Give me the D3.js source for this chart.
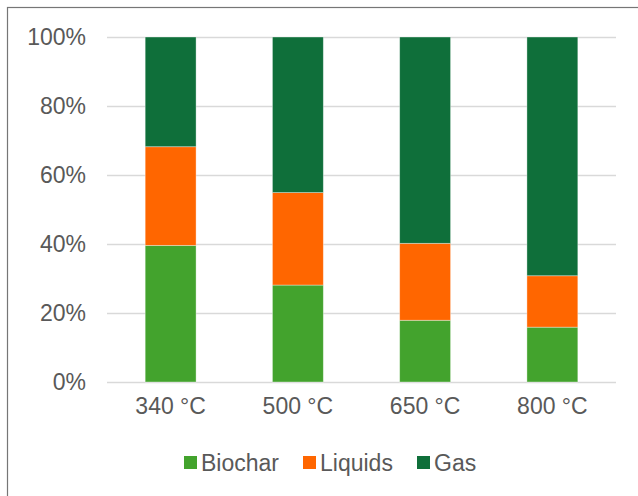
<!DOCTYPE html>
<html>
<head>
<meta charset="utf-8">
<script src="https://cdn.jsdelivr.net/npm/d3@7"></script>
<style>
  body { margin: 0; background: #fff; }
  text { font-family: "Liberation Sans", Arial, sans-serif; fill: #595959; }
</style>
</head>
<body>
<div id="chart"></div>
<script>
var categories = ["340 °C", "500 °C", "650 °C", "800 °C"];
var seriesNames = ["Biochar", "Liquids", "Gas"];
var biochar = [39.6, 28.1, 17.9, 15.9];
var liquids = [28.6, 26.8, 22.3, 14.9];
var gas = [31.8, 45.1, 59.8, 69.2];
var yTicks = [0, 20, 40, 60, 80, 100];
var colors = ["#43A32D", "#FF6600", "#0F6F3A"];

var W = 638, H = 496;
var margin = { top: 37, right: 22, bottom: 114, left: 107 },
    width = W - margin.left - margin.right,
    height = H - margin.top - margin.bottom;

var svg = d3.select("#chart")
    .append("svg")
    .attr("width", W)
    .attr("height", H);

// outer chart border
svg.append("rect")
    .attr("x", 7.5)
    .attr("y", 7.5)
    .attr("width", W + 20)
    .attr("height", H + 20)
    .attr("fill", "#fff")
    .attr("stroke", "#767676")
    .attr("stroke-width", 1.2);

var g = svg.append("g")
    .attr("transform", "translate(" + margin.left + "," + margin.top + ")");

var x = d3.scaleBand()
    .domain(categories)
    .range([0, width])
    .paddingInner(0.6)
    .paddingOuter(0.3);

var y = d3.scaleLinear()
    .domain([0, 100])
    .range([height, 0]);

// gridlines
g.append("g")
    .call(d3.axisLeft(y).tickValues(yTicks).tickSize(-width).tickFormat(""))
    .call(function(s) { s.select(".domain").remove(); })
    .selectAll("line")
    .attr("stroke", "#D9D9D9")
    .attr("stroke-width", 1.3);

// y labels
g.append("g")
    .call(d3.axisLeft(y).tickValues(yTicks).tickSize(0).tickPadding(21)
        .tickFormat(function(d) { return d + "%"; }))
    .call(function(s) { s.select(".domain").remove(); })
    .selectAll("text")
    .style("font-size", "23px")
    .attr("fill", "#595959");

// stacked data
var table = categories.map(function(c, i) {
    return { cat: c, Biochar: biochar[i], Liquids: liquids[i], Gas: gas[i] };
});
var stack = d3.stack().keys(seriesNames)(table);

g.selectAll(".series")
    .data(stack)
    .enter()
    .append("g")
    .attr("class", "series")
    .attr("fill", function(d, i) { return colors[i]; })
    .selectAll("rect")
    .data(function(d) { return d; })
    .enter()
    .append("rect")
    .attr("x", function(d) { return x(d.data.cat); })
    .attr("y", function(d) { return y(d[1]); })
    .attr("width", x.bandwidth())
    .attr("height", function(d) { return y(d[0]) - y(d[1]); })
    .attr("stroke", "#ffffff")
    .attr("stroke-opacity", 0.45)
    .attr("stroke-width", 0.8);

// x labels
g.append("g")
    .attr("transform", "translate(0," + height + ")")
    .call(d3.axisBottom(x).tickSize(0).tickPadding(16))
    .call(function(s) { s.select(".domain").remove(); })
    .selectAll("text")
    .style("font-size", "23px")
    .attr("fill", "#595959");

// legend
var legendX = [184, 303, 417];
var legend = svg.selectAll(".legend")
    .data(seriesNames)
    .enter()
    .append("g")
    .attr("class", "legend")
    .attr("transform", function(d, i) { return "translate(" + legendX[i] + ",456)"; });

legend.append("rect")
    .attr("width", 13)
    .attr("height", 13)
    .attr("fill", function(d, i) { return colors[i]; });

legend.append("text")
    .attr("x", 17)
    .attr("y", 14.5)
    .style("font-size", "23px")
    .text(function(d) { return d; });
</script>
</body>
</html>
